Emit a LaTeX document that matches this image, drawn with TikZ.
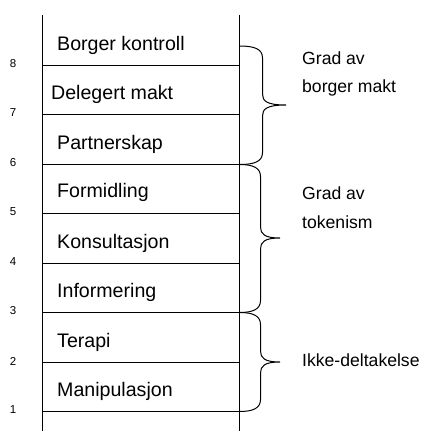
\documentclass[tikz,border=0pt]{standalone}
\usepackage{fontspec}
\setmainfont{Liberation Sans}
\usetikzlibrary{positioning, calc}

\begin{document}
\begin{tikzpicture}[x=1pt, y=-1pt,
    rung/.style={line width=1pt},
    brc/.style={line width=1pt},
    num/.style={inner sep=0pt, font=\fontsize{11.5}{13}\selectfont},
    lbl/.style={anchor=base west, inner sep=0pt, font=\fontsize{19.6}{22}\selectfont},
    grp/.style={anchor=base west, inner sep=0pt, align=left,
                font=\fontsize{17.6}{28.4}\selectfont}
]
\useasboundingbox (0,0) rectangle (422,431);
%% ladder: two rails and the rungs
\coordinate (TL) at (42.5,15);
\coordinate (BL) at (42.5,431);
\coordinate (TR) at (239.5,15);
\coordinate (BR) at (239.5,431);
\draw[rung] (TL) -- (BL);
\draw[rung] (TR) -- (BR);
\foreach \i/\y in {8/65.5,7/114.5,6/164.5,5/213.5,4/263.5,3/312.5,2/362.5,1/411.5}{
  \coordinate (L\i) at (42.5,\y);
  \coordinate (R\i) at (239.5,\y);
  \draw[rung] (L\i) -- (R\i);
  \node[num] (N\i) at (13,\y-1.5) {\i};
}
% steps of the ladder
\foreach \i/\x/\y/\txt in {8/57/50/Borger kontroll, 7/51/99.5/Delegert makt,
    6/57/149/Partnerskap, 5/57/197/Formidling, 4/57/248/Konsultasjon,
    3/57/297.5/Informering, 2/57/347/Terapi, 1/57/396.5/Manipulasjon}{
  \node[lbl] (S\i) at (\x,\y) {\txt};
}
%% braces: top/bottom/rail x/tip x/tip y
\foreach \top/\bot/\rx/\tx/\my in {46/164.5/262.5/286/105, 164.5/312.5/260.5/280/238,
    312.5/411.5/260.5/280/362}{
  \draw[brc] (239.5,\top) .. controls (\rx-8,\top) and (\rx,\top+3) .. (\rx,\top+12)
    -- (\rx,\my-11) .. controls (\rx,\my-4) and (\rx+4,\my) .. (\tx,\my)
    .. controls (\rx+4,\my) and (\rx,\my+4) .. (\rx,\my+11)
    -- (\rx,\bot-12) .. controls (\rx,\bot-3) and (\rx-8,\bot) .. (239.5,\bot);
}
% group names
\node[grp] (power) at (302,92.7) {Grad av\\borger makt};
\node[grp] (token) at (302,228.3) {Grad av\\tokenism};
\node[grp] (nonpart) at (302,366.7) {Ikke-deltakelse};
\end{tikzpicture}
\end{document}
